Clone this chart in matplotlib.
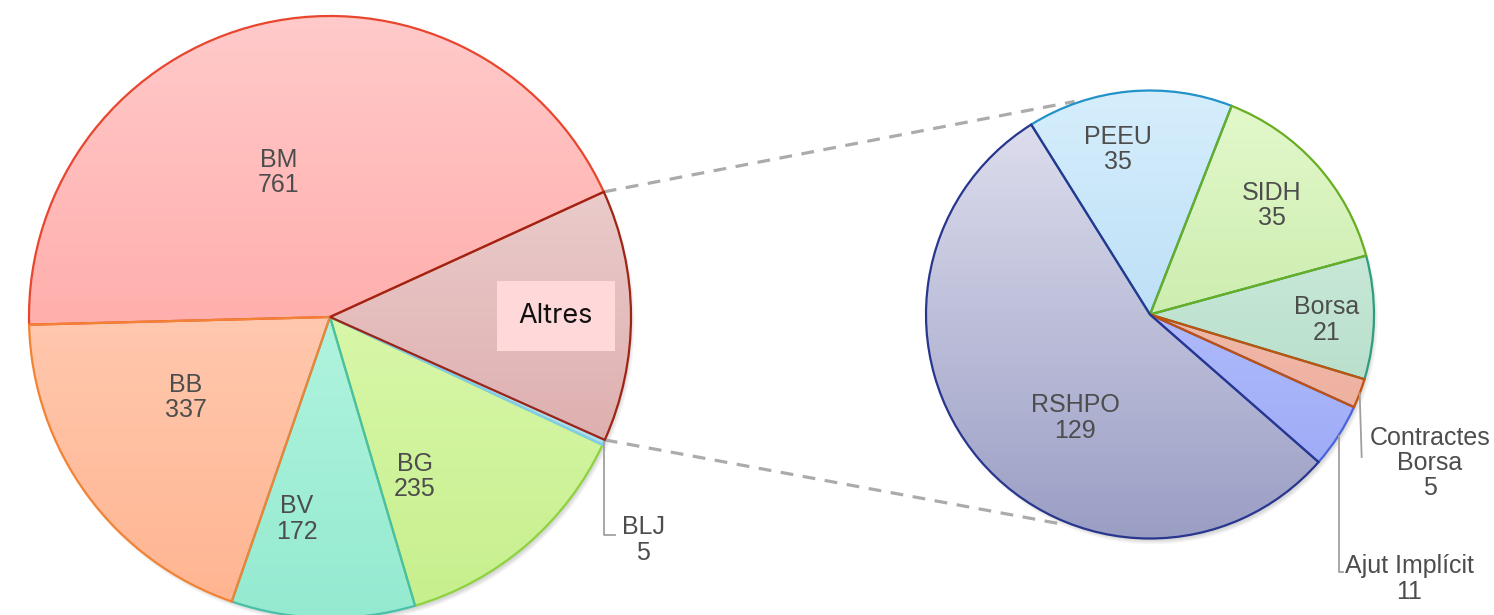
import numpy as np
import matplotlib
matplotlib.use("Agg")
import matplotlib.pyplot as plt
from matplotlib.colors import to_rgb
from matplotlib.patches import Circle

# ---------------- data ----------------
left_labels = ["Altres", "BM", "BB", "BV", "BG", "BLJ"]
left_values = [236, 761, 337, 172, 235, 5]

right_labels = ["Ajut Implícit", "Contractes\nBorsa", "Borsa", "SIDH", "PEEU", "RSHPO"]
right_values = [11, 5, 21, 35, 35, 129]

# ---------------- styles ----------------
W, H = 1494, 615
LC, LR = (330, 298), 301
RC, RR = (1150, 300.5), 224

left_top = ["#f3dede", "#ffcaca", "#ffdccc", "#cdfdec", "#eaffc6", "#c8ecfa"]
left_bot = ["#d69c9c", "#ff9590", "#ffb490", "#94ead0", "#c6ef8c", "#a0d8f0"]
left_edge = ["#a02414", "#e8462e", "#f28234", "#48c0a8", "#8ed23e", "#80cdf0"]
left_z = [2.6, 2.1, 2.4, 2.3, 2.2, 2.5]

right_top = ["#c4ceff", "#f4c4b6", "#dcf2e6", "#e4f9cc", "#d6eefc", "#e2e2f0"]
right_bot = ["#98a6f6", "#ecaa98", "#a6d6be", "#b6e294", "#a6d2f2", "#9a9ec4"]
right_edge = ["#4a64e0", "#c0520e", "#2e9e7e", "#68ae22", "#2292c8", "#28368e"]
right_z = [2.2, 2.5, 2.1, 2.4, 2.3, 2.6]

# label placement: (angle offset from wedge mid, radial fraction)
left_lab_pos = {"BM": (6.7, 0.51), "BB": (-7, 0.55), "BV": (-8, 0.68),
                "BG": (-12.7, 0.60), "Altres": (0, 0.75)}
right_lab_pos = {"PEEU": (5.7, 0.75), "SIDH": (0, 0.73), "Borsa": (-1.0, 0.79),
                 "RSHPO": (13.8, 0.57)}

TXT = "#4d4d4d"
FONT = "Liberation Sans"
FS = 18
LS = 1.06

fig = plt.figure(figsize=(W / 100, H / 100), dpi=100)
ax = fig.add_axes([0, 0, 1, 1])


def px(y):
    return H - y


def shadow(center, r):
    for k in range(8):
        ax.add_patch(Circle((center[0] + 3, center[1] - 5), r + 1 - k * 0.6,
                            facecolor="black", edgecolor="none", alpha=0.018, zorder=0))


def gradient_fill(wedges, center, r, tops, bots, zs):
    n = 256
    t = np.linspace(0, 1, n)[:, None]
    for w, c1, c2, z in zip(wedges, tops, bots, zs):
        a, b = np.array(to_rgb(c1)), np.array(to_rgb(c2))
        img = (a[None, None, :] * (1 - t[:, :, None]) + b[None, None, :] * t[:, :, None])
        img = np.repeat(img, 2, axis=1)
        im = ax.imshow(img, extent=(center[0] - r, center[0] + r, center[1] - r, center[1] + r),
                       origin="upper", aspect="auto", zorder=1, interpolation="bilinear")
        im.set_clip_path(w)
        w.set_facecolor("none")
        w.set_zorder(z)


def polar(center, r, ang):
    a = np.deg2rad(ang)
    return center[0] + r * np.cos(a), center[1] + r * np.sin(a)


wl, _ = ax.pie(left_values, startangle=-24.1, center=LC, radius=LR, counterclock=True,
               wedgeprops=dict(linewidth=1.6), frame=False)
for w, e in zip(wl, left_edge):
    w.set_edgecolor(e)

wr, _ = ax.pie(right_values, startangle=-41.2, center=RC, radius=RR, counterclock=True,
               wedgeprops=dict(linewidth=1.6), frame=False)
for w, e in zip(wr, right_edge):
    w.set_edgecolor(e)

shadow(LC, LR)
shadow(RC, RR)
gradient_fill(wl, LC, LR, left_top, left_bot, left_z)
gradient_fill(wr, RC, RR, right_top, right_bot, right_z)

# ---------------- connectors ----------------
alt = wl[0]
p1 = polar(LC, LR, alt.theta2)
p2 = polar(LC, LR, alt.theta1)
q1 = polar(RC, RR + 2, 109.5)
q2 = polar(RC, RR + 4, 246.5)
for p, q in ((p1, q1), (p2, q2)):
    ax.plot([p[0], q[0]], [p[1], q[1]], color="#ababab", lw=2.3, ls=(0, (4, 3)),
            zorder=0.5, solid_capstyle="butt")

# ---------------- labels ----------------
kw = dict(ha="center", va="center", fontsize=FS, family=FONT, color=TXT, zorder=5,
          linespacing=LS)
for w, lab, val in zip(wl, left_labels, left_values):
    mid = 0.5 * (w.theta1 + w.theta2)
    if lab in left_lab_pos:
        d, f = left_lab_pos[lab]
        x, y = polar(LC, LR * f, mid + d)
        if lab == "Altres":
            ax.text(x, y, lab, ha="center", va="center", fontsize=19.5, family="Inter",
                    color="#111111", zorder=5,
                    bbox=dict(boxstyle="square,pad=0.8", facecolor="#ffd9d9", edgecolor="none"))
        else:
            ax.text(x, y, f"{lab}\n{val}", **kw)
    else:  # BLJ leader
        x0, y0 = polar(LC, LR, mid)
        ax.plot([x0, x0, x0 + 11], [y0, px(535), px(535)], color="#a0a0a0", lw=1.3, zorder=5)
        ax.text(643, px(540), f"{lab}\n{val}", **kw)

for w, lab, val in zip(wr, right_labels, right_values):
    mid = 0.5 * (w.theta1 + w.theta2)
    if lab in right_lab_pos:
        d, f = right_lab_pos[lab]
        x, y = polar(RC, RR * f, mid + d)
        ax.text(x, y, f"{lab}\n{val}", **kw)
    elif lab.startswith("Contractes"):
        x0, y0 = polar(RC, RR, mid)
        ax.plot([x0, x0 + 2], [y0, px(457)], color="#a0a0a0", lw=1.3, zorder=5)
        ax.text(1430, px(463), f"{lab}\n{val}", **kw)
    else:
        x0, y0 = polar(RC, RR, mid)
        ax.plot([x0 + 1, x0 + 1, x0 + 5], [y0, px(572), px(572)], color="#a0a0a0",
                lw=1.3, zorder=5)
        ax.text(1409, px(579), f"{lab}\n{val}", **kw)

ax.set_xlim(0, W)
ax.set_ylim(0, H)
ax.set_aspect("auto")
ax.axis("off")
fig.savefig("out.png", dpi=100, facecolor="white")
